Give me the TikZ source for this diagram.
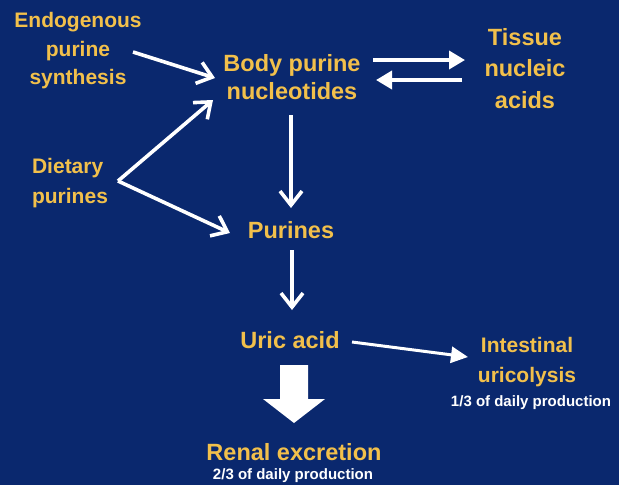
\documentclass[tikz,border=0pt]{standalone}
\usepackage{fontspec}
\setmainfont{Liberation Sans}
\usetikzlibrary{arrows.meta,calc}
\definecolor{bg}{RGB}{10,40,110}
\definecolor{gold}{RGB}{242,192,75}
\begin{document}
\begin{tikzpicture}[x=1pt,y=-1pt,
 lbl/.style={text=gold,font=\bfseries\fontsize{23.5}{28}\selectfont,align=center,inner sep=0},
 side/.style={text=gold,font=\bfseries\fontsize{21}{28.5}\selectfont,align=center,inner sep=0},
 note/.style={text=white,font=\bfseries\fontsize{15}{18}\selectfont,inner sep=0},
 barb/.style={draw=white,line width=3.6pt,-{Straight Barb[length=14pt,width=22pt]}},
 tri/.style={draw=white,line width=3.5pt,-{Triangle[length=16pt,width=18pt]}},
 thin tri/.style={draw=white,line width=3pt,-{Triangle[length=17pt,width=16pt]}},
]
\fill[bg] (0,0) rectangle (619,485);
\useasboundingbox (0,0) rectangle (619,485);

\node[side] (endo) at (78,50.6) {Endogenous\\purine\\synthesis};
\node[lbl] (body) at (292,77) {Body purine\\nucleotides};
\node[lbl,font=\bfseries\fontsize{23.5}{31.5}\selectfont] (tissue) at (525,68.4) {Tissue\\nucleic\\acids};
\node[side,align=left,font=\bfseries\fontsize{21}{30}\selectfont] (diet) at (70,183) {Dietary\\purines};
\node[lbl] (purines) at (291,230) {Purines};
\node[lbl] (uric) at (290,340) {Uric acid};
\node[side,font=\bfseries\fontsize{21}{30}\selectfont] (intest) at (527,362) {Intestinal\\uricolysis};
\node[note] (intnote) at (531,403) {1/3 of daily production};
\node[lbl] (renal) at (294,452) {Renal excretion};
\node[note] (renote) at (293,476) {2/3 of daily production};

\draw[barb] ($(endo)+(55,1.4)$) -- ($(body)+(-77,1)$);
\draw[barb] ($(diet)+(48,-2)$) -- ($(body)+(-79,23)$);
\draw[barb] ($(diet)+(48,-2)$) -- ($(purines)+(-61,3)$);
\draw[barb] ($(body)+(-1,38)$) -- ($(purines)+(0,-22)$);
\draw[barb] ($(purines)+(1,20)$) -- ($(uric)+(2,-30)$);
\draw[tri] ($(body)+(81,-17)$) -- ($(tissue)+(-60,-8.4)$);
\draw[tri] ($(tissue)+(-63,11.6)$) -- ($(body)+(84,3)$);
\draw[thin tri] ($(uric)+(62,2)$) -- ($(intest)+(-59,-5)$);
\fill[white] ($(renal)+(-14,-87)$) -- ($(renal)+(14,-87)$) -- ($(renal)+(14,-53)$)
  -- ($(renal)+(31,-53)$) -- ($(renal)+(0,-29)$) -- ($(renal)+(-31,-53)$)
  -- ($(renal)+(-14,-53)$) -- cycle;
\end{tikzpicture}
\end{document}
